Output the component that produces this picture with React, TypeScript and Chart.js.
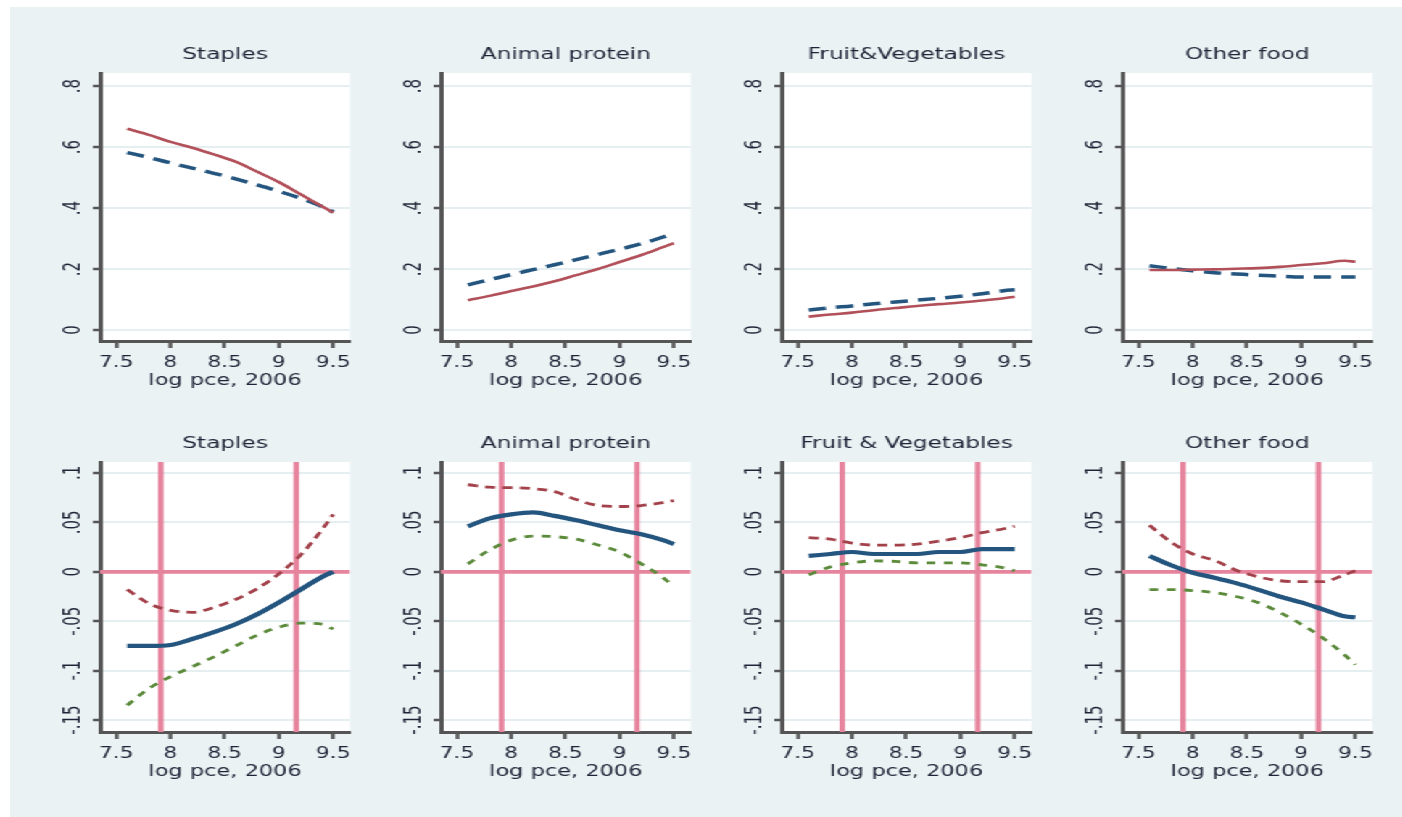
import React, { useEffect, useRef } from "react";
import { Chart, registerables } from "chart.js";

Chart.register(...registerables);

// ---------------- data ----------------
const X_GRID = [7.6, 7.8, 8.0, 8.2, 8.4, 8.6, 8.8, 9.0, 9.2, 9.4, 9.5];

const X_TICKS = [7.5, 8, 8.5, 9, 9.5];
const X_TICK_LABELS = ["7.5", "8", "8.5", "9", "9.5"];
const X_TITLE = "log pce, 2006";
const X_MIN = 7.35;
const X_MAX = 9.656;

const TOP_Y_TICKS = [0, 0.2, 0.4, 0.6, 0.8];
const TOP_Y_LABELS = ["0", ".2", ".4", ".6", ".8"];
const TOP_Y_MIN = -0.036;
const TOP_Y_MAX = 0.843;

const BOT_Y_TICKS = [-0.15, -0.1, -0.05, 0, 0.05, 0.1];
const BOT_Y_LABELS = ["-.15", "-.1", "-.05", "0", ".05", ".1"];
const BOT_Y_MIN = -0.162;
const BOT_Y_MAX = 0.111;

const TOP_TITLES = ["Staples", "Animal protein", "Fruit&Vegetables", "Other food"];
const BOT_TITLES = ["Staples", "Animal protein", "Fruit & Vegetables", "Other food"];

const REF_X = [7.91, 9.16];
const REF_Y = 0;

// top row: red solid / blue dashed
const TOP_STAPLES_RED = [0.66, 0.64, 0.617, 0.598, 0.576, 0.552, 0.519, 0.485, 0.445, 0.405, 0.385];
const TOP_STAPLES_BLUE = [0.582, 0.566, 0.548, 0.531, 0.514, 0.496, 0.476, 0.455, 0.432, 0.405, 0.387];
const TOP_ANIMAL_RED = [0.098, 0.112, 0.128, 0.143, 0.16, 0.18, 0.2, 0.223, 0.246, 0.272, 0.285];
const TOP_ANIMAL_BLUE = [0.148, 0.165, 0.182, 0.198, 0.214, 0.231, 0.248, 0.265, 0.283, 0.305, 0.318];
const TOP_FRUIT_RED = [0.044, 0.051, 0.057, 0.065, 0.072, 0.079, 0.085, 0.09, 0.097, 0.104, 0.109];
const TOP_FRUIT_BLUE = [0.066, 0.073, 0.079, 0.086, 0.092, 0.098, 0.104, 0.111, 0.119, 0.129, 0.132];
const TOP_OTHER_RED = [0.197, 0.197, 0.198, 0.199, 0.201, 0.203, 0.207, 0.213, 0.219, 0.227, 0.224];
const TOP_OTHER_BLUE = [0.211, 0.202, 0.194, 0.188, 0.184, 0.18, 0.177, 0.174, 0.174, 0.174, 0.174];

// bottom row: estimate (blue), upper band (red), lower band (green)
const BOT_STAPLES_EST = [-0.075, -0.075, -0.074, -0.068, -0.061, -0.053, -0.043, -0.031, -0.018, -0.005, 0.0];
const BOT_STAPLES_HI = [-0.018, -0.032, -0.039, -0.041, -0.036, -0.028, -0.017, -0.002, 0.017, 0.043, 0.058];
const BOT_STAPLES_LO = [-0.135, -0.118, -0.106, -0.096, -0.086, -0.075, -0.064, -0.056, -0.052, -0.053, -0.058];
const BOT_ANIMAL_EST = [0.046, 0.054, 0.058, 0.06, 0.0565, 0.052, 0.047, 0.042, 0.038, 0.032, 0.028];
const BOT_ANIMAL_HI = [0.088, 0.0855, 0.085, 0.084, 0.081, 0.073, 0.067, 0.066, 0.067, 0.07, 0.072];
const BOT_ANIMAL_LO = [0.008, 0.022, 0.032, 0.036, 0.0355, 0.033, 0.027, 0.02, 0.008, -0.006, -0.015];
const BOT_FRUIT_EST = [0.016, 0.018, 0.02, 0.018, 0.018, 0.018, 0.02, 0.02, 0.023, 0.023, 0.023];
const BOT_FRUIT_HI = [0.0345, 0.033, 0.029, 0.027, 0.027, 0.028, 0.031, 0.0345, 0.0395, 0.0435, 0.046];
const BOT_FRUIT_LO = [-0.003, 0.005, 0.009, 0.011, 0.0105, 0.009, 0.009, 0.009, 0.007, 0.004, 0.001];
const BOT_OTHER_EST = [0.016, 0.0066, -0.001, -0.006, -0.0115, -0.018, -0.025, -0.031, -0.038, -0.045, -0.046];
const BOT_OTHER_HI = [0.047, 0.03, 0.018, 0.0115, 0.0016, -0.005, -0.009, -0.01, -0.01, -0.003, 0.001];
const BOT_OTHER_LO = [-0.018, -0.018, -0.019, -0.021, -0.025, -0.031, -0.041, -0.053, -0.067, -0.084, -0.094];

const TOP_RED = [TOP_STAPLES_RED, TOP_ANIMAL_RED, TOP_FRUIT_RED, TOP_OTHER_RED];
const TOP_BLUE = [TOP_STAPLES_BLUE, TOP_ANIMAL_BLUE, TOP_FRUIT_BLUE, TOP_OTHER_BLUE];
const BOT_EST = [BOT_STAPLES_EST, BOT_ANIMAL_EST, BOT_FRUIT_EST, BOT_OTHER_EST];
const BOT_HI = [BOT_STAPLES_HI, BOT_ANIMAL_HI, BOT_FRUIT_HI, BOT_OTHER_HI];
const BOT_LO = [BOT_STAPLES_LO, BOT_ANIMAL_LO, BOT_FRUIT_LO, BOT_OTHER_LO];

// ---------------- style / layout ----------------
const S = 1.45; // horizontal stretch of the whole figure
const FONT = "DejaVu Sans";
const BG = "#EAF2F3";
const TEXT = "#1E2538";
const AXIS = "#555555";
const GRID = "#E5EEF0";
const BLUE = "#23557F";
const RED_SOLID = "#B2505A";
const RED_DASH = "#A3414A";
const GREEN = "#5B8A3A";
const PINK = "#E6839D";

const PANEL_L = [100, 441, 781, 1122]; // screen x of each plot's y axis
const CW = 235;
const CH = 392;
const Y_AXIS_W = 61;
const PLOT_W = 250 / S;
const ROWS = [
  { top: 20, xAxisH: 71 },
  { top: 409, xAxisH: 69 },
];

type Spec = {
  key: string;
  left: number;
  top: number;
  xAxisH: number;
  title: string;
  yTicks: number[];
  yLabels: string[];
  yMin: number;
  yMax: number;
  datasets: any[];
};

const pts = (arr: number[]) => X_GRID.map((x, i) => ({ x, y: arr[i] }));

function curve(arr: number[], color: string, width: number, dash: number[] | undefined, order: number) {
  return {
    data: pts(arr),
    borderColor: color,
    borderWidth: width,
    borderDash: dash || [],
    pointRadius: 0,
    fill: false,
    cubicInterpolationMode: "monotone",
    borderCapStyle: "butt",
    order,
  };
}

function refLine(data: { x: number; y: number }[]) {
  return {
    data,
    borderColor: PINK,
    borderWidth: 3.8,
    pointRadius: 0,
    fill: false,
    tension: 0,
    order: 10,
  };
}

const SPECS: Spec[] = [];
for (let i = 0; i < 4; i++) {
  SPECS.push({
    key: "top" + i,
    left: (PANEL_L[i] - Y_AXIS_W * S) / S,
    top: ROWS[0].top,
    xAxisH: ROWS[0].xAxisH,
    title: TOP_TITLES[i],
    yTicks: TOP_Y_TICKS,
    yLabels: TOP_Y_LABELS,
    yMin: TOP_Y_MIN,
    yMax: TOP_Y_MAX,
    datasets: [
      curve(TOP_BLUE[i], BLUE, 3.5, [12, 7], 1),
      curve(TOP_RED[i], RED_SOLID, 2.6, undefined, 0),
    ],
  });
}
for (let i = 0; i < 4; i++) {
  SPECS.push({
    key: "bot" + i,
    left: (PANEL_L[i] - Y_AXIS_W * S) / S,
    top: ROWS[1].top,
    xAxisH: ROWS[1].xAxisH,
    title: BOT_TITLES[i],
    yTicks: BOT_Y_TICKS,
    yLabels: BOT_Y_LABELS,
    yMin: BOT_Y_MIN,
    yMax: BOT_Y_MAX,
    datasets: [
      curve(BOT_EST[i], BLUE, 4.2, undefined, 0),
      curve(BOT_HI[i], RED_DASH, 2.8, [7, 5], 1),
      curve(BOT_LO[i], GREEN, 2.8, [6, 6], 2),
      ...REF_X.map((v) => refLine([{ x: v, y: BOT_Y_MIN }, { x: v, y: BOT_Y_MAX }])),
      refLine([{ x: X_MIN, y: REF_Y }, { x: X_MAX, y: REF_Y }]),
    ],
  });
}

function makeDecor(spec: Spec) {
  return {
    id: "decor_" + spec.key,
    beforeDraw(chart: any) {
      const { ctx, chartArea: a } = chart;
      ctx.save();
      ctx.fillStyle = "#ffffff";
      ctx.fillRect(a.left, a.top, a.right - a.left, a.bottom - a.top);
      ctx.restore();
    },
    afterDraw(chart: any) {
      const { ctx, chartArea: a } = chart;
      const ys = chart.scales.y;
      const cx = (a.left + a.right) / 2;
      ctx.save();
      ctx.fillStyle = TEXT;
      ctx.textAlign = "center";
      ctx.font = `16px "${FONT}"`;
      ctx.textBaseline = "middle";
      ctx.fillText(spec.title, cx, a.top - 18.5);
      ctx.font = `15.5px "${FONT}"`;
      ctx.textBaseline = "alphabetic";
      ctx.fillText(X_TITLE, cx, a.bottom + 44);
      ctx.font = `15px "${FONT}"`;
      spec.yTicks.forEach((v, i) => {
        const py = ys.getPixelForValue(v);
        ctx.save();
        ctx.translate(a.left - 14.5, py);
        ctx.rotate(-Math.PI / 2);
        ctx.textAlign = "center";
        ctx.textBaseline = "alphabetic";
        ctx.fillText(spec.yLabels[i], 0, 0);
        ctx.restore();
      });
      ctx.restore();
    },
  };
}

function buildConfig(spec: Spec): any {
  return {
    type: "line",
    data: { datasets: spec.datasets },
    options: {
      animation: false,
      responsive: false,
      devicePixelRatio: 1,
      events: [],
      layout: { padding: { left: 0, top: 53, right: CW - Y_AXIS_W - PLOT_W, bottom: 0 } },
      plugins: {
        legend: { display: false },
        tooltip: { enabled: false },
        title: { display: false },
      },
      scales: {
        x: {
          type: "linear",
          min: X_MIN,
          max: X_MAX,
          afterBuildTicks: (s: any) => {
            s.ticks = X_TICKS.map((v) => ({ value: v }));
          },
          afterFit: (s: any) => {
            s.height = spec.xAxisH;
            s.paddingLeft = 0;
            s.paddingRight = 0;
          },
          grid: {
            display: true,
            drawOnChartArea: false,
            drawTicks: true,
            tickLength: 7,
            tickWidth: 2.5,
            tickColor: AXIS,
            color: AXIS,
          },
          border: { display: true, color: AXIS, width: 3 },
          ticks: {
            autoSkip: false,
            maxRotation: 0,
            minRotation: 0,
            padding: 6,
            color: TEXT,
            font: { family: FONT, size: 15 },
            callback: (v: any) => {
              const k = X_TICKS.indexOf(Number(v));
              return k >= 0 ? X_TICK_LABELS[k] : "";
            },
          },
        },
        y: {
          type: "linear",
          min: spec.yMin,
          max: spec.yMax,
          afterBuildTicks: (s: any) => {
            s.ticks = spec.yTicks.map((v) => ({ value: v }));
          },
          afterFit: (s: any) => {
            s.width = Y_AXIS_W;
            s.paddingTop = 0;
            s.paddingBottom = 0;
          },
          grid: {
            display: true,
            drawOnChartArea: true,
            drawTicks: true,
            color: GRID,
            lineWidth: 2,
            tickLength: 5,
            tickWidth: 2.5,
            tickColor: AXIS,
          },
          border: { display: true, color: AXIS, width: 3 },
          ticks: { display: false },
        },
      },
    },
    plugins: [makeDecor(spec)],
  };
}

function Panel({ spec }: { spec: Spec }) {
  const ref = useRef<HTMLCanvasElement>(null);
  useEffect(() => {
    if (!ref.current) return;
    const chart = new Chart(ref.current, buildConfig(spec));
    return () => chart.destroy();
  }, [spec]);
  return (
    <canvas
      ref={ref}
      width={CW}
      height={CH}
      style={{ position: "absolute", left: spec.left, top: spec.top, width: CW, height: CH }}
    />
  );
}

export default function App() {
  return (
    <div
      style={{
        position: "absolute",
        left: 0,
        top: 0,
        width: 1402,
        height: 817,
        background: "#ffffff",
        overflow: "hidden",
      }}
    >
      <div style={{ position: "absolute", left: 10, top: 7, width: 1392, height: 810, background: BG }} />
      <div
        style={{
          position: "absolute",
          left: 0,
          top: 0,
          width: 1402 / S,
          height: 817,
          transform: `scaleX(${S})`,
          transformOrigin: "0 0",
        }}
      >
        {SPECS.map((s) => (
          <Panel key={s.key} spec={s} />
        ))}
      </div>
    </div>
  );
}
